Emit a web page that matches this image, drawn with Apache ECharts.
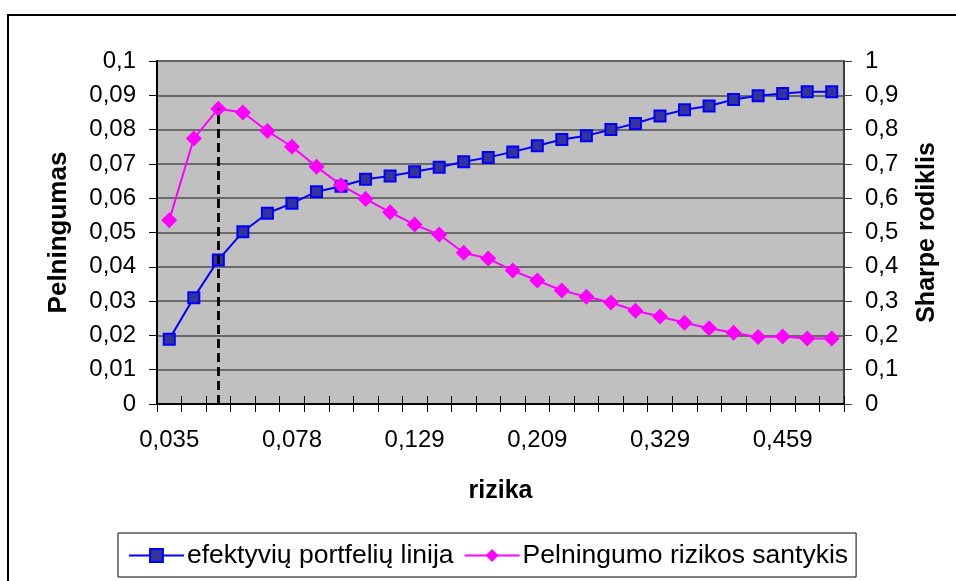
<!DOCTYPE html>
<html>
<head>
<meta charset="utf-8">
<script src="https://cdn.jsdelivr.net/npm/echarts@6/dist/echarts.min.js"></script>
<style>
html,body{margin:0;padding:0;background:#fff;}
#chart{width:956px;height:581px;}
</style>
</head>
<body>
<div id="chart"></div>
<script>
// Risk (category axis), estimated for the unlabeled categories
const riskLabels = ['0,035','0,040','0,049','0,059','0,070','0,078','0,089','0,100','0,110','0,119',
  '0,129','0,139','0,160','0,170','0,189','0,209','0,233','0,250','0,270','0,301',
  '0,329','0,362','0,393','0,427','0,443','0,459','0,476','0,490'];
// Efficient frontier returns (left axis)
const returns = [0.0189,0.0310,0.0420,0.0502,0.0556,0.0585,0.0619,0.0635,0.0655,0.0665,
  0.0677,0.0690,0.0706,0.0719,0.0735,0.0753,0.0771,0.0782,0.0800,0.0818,
  0.0840,0.0858,0.0869,0.0888,0.0899,0.0905,0.0910,0.0910];
// Sharpe ratio (right axis)
const sharpe = [0.536,0.774,0.861,0.850,0.796,0.750,0.692,0.638,0.598,0.559,
  0.523,0.494,0.441,0.424,0.389,0.360,0.331,0.313,0.296,0.272,
  0.255,0.237,0.221,0.208,0.195,0.197,0.191,0.191];
const seriesNames = ['efektyvių portfelių linija', 'Pelningumo rizikos santykis'];
const peakIndex = 2;

const FONT = "'Liberation Sans', Arial, sans-serif";
const fmt = v => String(+(+v).toFixed(3)).replace('.', ',');

const chart = echarts.init(document.getElementById('chart'), null, {renderer: 'canvas'});
chart.setOption({
  backgroundColor: '#ffffff',
  animation: false,
  textStyle: {fontFamily: FONT, color: '#000'},
  graphic: [{
    type: 'rect', silent: true, z: 0,
    shape: {x: 8, y: 15, width: 1000, height: 700},
    style: {fill: 'none', stroke: '#000', lineWidth: 2}
  }],
  grid: {left: 157, right: 112, top: 61, bottom: 177, show: true,
    backgroundColor: '#c0c0c0', borderColor: '#808080', borderWidth: 1},
  legend: {
    left: 118, top: 533,
    padding: [9, 8, 8, 10],
    itemWidth: 55, itemHeight: 16, itemGap: 10,
    borderColor: '#000', borderWidth: 1, backgroundColor: '#fff',
    textStyle: {fontFamily: FONT, fontSize: 26.5, color: '#000', padding: [0, 0, 0, -2]},
    data: seriesNames
  },
  xAxis: [{
    type: 'category', data: riskLabels, boundaryGap: true,
    name: 'rizika', nameLocation: 'middle', nameGap: 75,
    nameTextStyle: {fontFamily: FONT, fontSize: 25, fontWeight: 'bold', color: '#000'},
    axisLine: {lineStyle: {color: '#000', width: 2}},
    axisTick: {show: true, interval: 0, length: 8, lineStyle: {color: '#000', width: 1}},
    axisLabel: {interval: 4, margin: 24, fontFamily: FONT, fontSize: 24, color: '#000'},
    splitLine: {show: false}
  }, {
    type: 'category', data: riskLabels, boundaryGap: true, position: 'bottom',
    axisLine: {show: false},
    axisTick: {show: true, inside: true, interval: 0, length: 8, lineStyle: {color: '#000', width: 1}},
    axisLabel: {show: false}, splitLine: {show: false}
  }],
  yAxis: [{
    type: 'value', min: 0, max: 0.1, interval: 0.01, position: 'left',
    name: 'Pelningumas', nameLocation: 'middle', nameGap: 85, nameRotate: 90,
    nameTextStyle: {fontFamily: FONT, fontSize: 26, fontWeight: 'bold', color: '#000'},
    axisLine: {show: true, lineStyle: {color: '#000', width: 2}},
    axisTick: {show: true, length: 8, lineStyle: {color: '#000'}},
    axisLabel: {margin: 21, fontFamily: FONT, fontSize: 24, color: '#000', formatter: fmt},
    splitLine: {show: true, lineStyle: {color: '#4d4d4d', width: 1.5}}
  }, {
    type: 'value', min: 0, max: 1, interval: 0.1, position: 'right',
    name: 'Sharpe rodiklis', nameLocation: 'middle', nameGap: 71, nameRotate: 90,
    nameTextStyle: {fontFamily: FONT, fontSize: 25, fontWeight: 'bold', color: '#000'},
    axisLine: {show: true, lineStyle: {color: '#404040', width: 2}},
    axisTick: {show: true, length: 8, lineStyle: {color: '#404040'}},
    axisLabel: {margin: 21, fontFamily: FONT, fontSize: 24, color: '#000', formatter: fmt},
    splitLine: {show: false}
  }],
  series: [{
    name: seriesNames[0], type: 'line', xAxisIndex: 0, yAxisIndex: 0,
    data: returns,
    symbol: 'rect', symbolSize: 11,
    lineStyle: {color: '#0000ff', width: 2},
    itemStyle: {color: '#333399', borderColor: '#0000ff', borderWidth: 2},
    z: 3
  }, {
    name: seriesNames[1], type: 'line', xAxisIndex: 0, yAxisIndex: 1,
    data: sharpe,
    symbol: 'diamond', symbolSize: 16,
    lineStyle: {color: '#ff00ff', width: 2},
    itemStyle: {color: '#ff00ff', borderColor: '#ff00ff', borderWidth: 0},
    z: 4,
    markLine: {
      silent: true, symbol: ['none', 'none'], animation: false,
      label: {show: false},
      lineStyle: {color: '#000', width: 2.8, type: [9, 5]},
      data: [[{coord: [peakIndex, 0]}, {coord: [peakIndex, sharpe[peakIndex]]}]]
    }
  }]
});
</script>
</body>
</html>
